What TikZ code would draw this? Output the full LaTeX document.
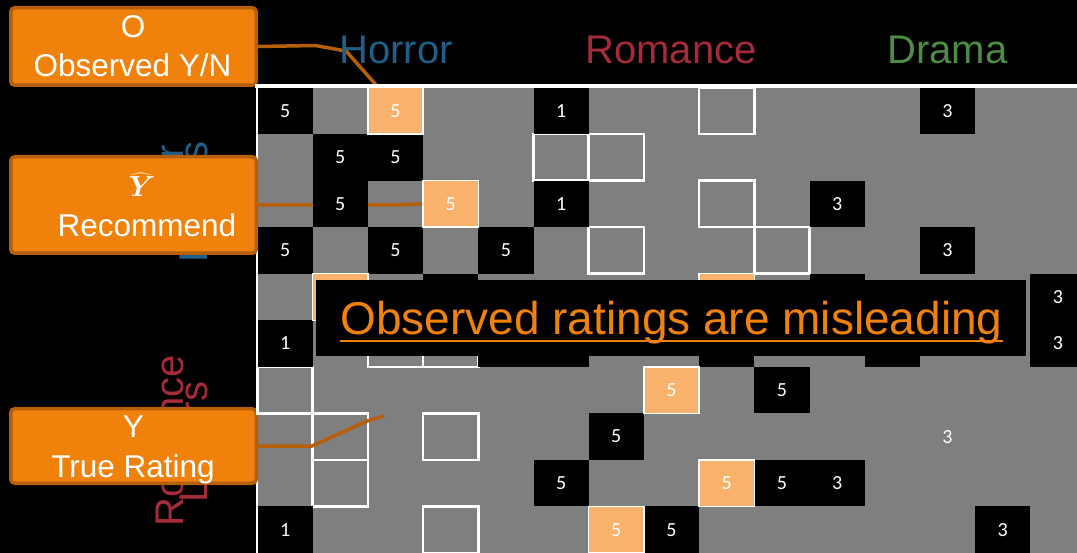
\documentclass[tikz,border=0pt]{standalone}
\usepackage{fontspec}
\setmainfont{Liberation Sans}
\newfontfamily\digitfont{Carlito}
\definecolor{bgray}{RGB}{127,127,127}
\definecolor{lorange}{RGB}{249,178,107}
\definecolor{borange}{RGB}{240,130,12}
\definecolor{dorange}{RGB}{181,95,8}
\definecolor{hblue}{RGB}{31,94,135}
\definecolor{rred}{RGB}{165,42,58}
\definecolor{dgreen}{RGB}{76,140,69}
\pgfdeclarelayer{bg}
\pgfdeclarelayer{mid}
\pgfsetlayers{bg,mid,main}
\begin{document}
\begin{tikzpicture}[x=1pt,y=-1pt,
  cellbase/.style={minimum width=55.2pt, minimum height=46.55pt, inner sep=0pt, outer sep=0pt,
    font=\digitfont\fontsize{20}{24}\selectfont, text=white},
  blackcell/.style={cellbase, fill=black},
  ratedcell/.style={cellbase, fill=lorange, draw=white, line width=1.5pt},
  opencell/.style={cellbase, draw=white, line width=2.5pt},
  plaincell/.style={cellbase},
  labelbox/.style={draw=dorange, fill=borange, line width=3.5pt, rounded corners=4pt,
    minimum width=245.5pt, inner sep=0pt},
  boxtext/.style={text=white, font=\fontsize{31.5}{36}\selectfont, anchor=base, inner sep=0pt},
  genre/.style={font=\fontsize{40}{48}\selectfont, anchor=base, inner sep=0pt},
  lovers/.style={font=\fontsize{40}{48}\selectfont, anchor=base, inner sep=0pt, rotate=90},
  link/.style={draw=dorange, line width=3.5pt, line join=round},
]
\useasboundingbox (0,0) rectangle (1077,553);
\begin{pgfonlayer}{bg}
  \fill[black] (0,0) rectangle (1077,553);
  \fill[bgray] (257.5,87.5) rectangle (1077,553);
  \draw[white, line width=2pt] (256.5,84) -- (256.5,553);
  % rotated side labels
  \node[lovers, text=hblue] (hl1) at (183,202) {Horror};
  \node[lovers, text=hblue] (hl2) at (207,202) {Lovers};
  \node[lovers, text=rred] (rl1) at (183,441) {Romance};
  \node[lovers, text=rred] (rl2) at (207,442) {Lovers};
  % label boxes
  \node[labelbox, minimum height=77.5pt] (obox) at (133.5,46.5) {};
  \node[labelbox, minimum height=96.5pt] (rbox) at (133.5,205) {};
  \node[labelbox, minimum height=74.5pt] (ybox) at (133.5,446) {};
  \node[boxtext] (ot1) at (133,38) {O};
  \node[boxtext] (ot2) at (132.5,77) {Observed Y/N};
  \node[text=white, anchor=base, inner sep=0pt, font=\fontsize{20}{24}\selectfont] (rt1) at (142,197) {\scalebox{1.4}{\boldmath$\widehat{Y}$}};
  \node[boxtext] (rt2) at (147,237) {Recommend};
  \node[boxtext] (yt1) at (133.5,438) {Y};
  \node[boxtext] (yt2) at (133,477) {True Rating};
  % outlined empty cells
  \foreach \c/\r in {8/0,5/1,6/1,8/2,6/3,9/3,2/5,3/5,0/6,1/7,3/7,1/8,3/9}
    \node[opencell] (w-\c-\r) at ({285.1+55.2*\c},{110.8+46.55*\r}) {};
\end{pgfonlayer}
% observed ratings
\foreach \c/\r/\v in {0/0/5,5/0/1,12/0/3,1/1/5,2/1/5,1/2/5,5/2/1,10/2/3,0/3/5,2/3/5,4/3/5,12/3/3,14/4/3,0/5/1,14/5/3,9/6/5,6/7/5,5/8/5,9/8/5,10/8/3,0/9/1,7/9/5,13/9/3}
  \node[blackcell] (b-\c-\r) at ({285.1+55.2*\c},{110.8+46.55*\r}) {\v};
\foreach \c/\r in {3/4,10/4,4/5,5/5,8/5,11/5}
  \node[blackcell] (b-\c-\r) at ({285.1+55.2*\c},{110.8+46.55*\r}) {};
\foreach \c/\r/\v in {2/0/5,3/2/5,7/6/5,8/8/5,6/9/5}
  \node[ratedcell] (o-\c-\r) at ({285.1+55.2*\c},{110.8+46.55*\r}) {\v};
\foreach \c/\r in {1/4,8/4}
  \node[ratedcell] (o-\c-\r) at ({285.1+55.2*\c},{110.8+46.55*\r}) {};
\node[plaincell] (p-12-7) at ({285.1+55.2*12},{110.8+46.55*7}) {3};
\draw[white, line width=4pt] (255,86) -- (1077,86);
% genre headers
\node[genre, text=hblue] (hh) at (396,64) {Horror};
\node[genre, text=rred] (rh) at (671,64) {Romance};
\node[genre, text=dgreen] (dh) at (947.5,64) {Drama};
% connectors
\begin{pgfonlayer}{mid}
  \coordinate (oend) at (377,86);
  \coordinate (yend) at (384,416);
  \draw[link] (obox.east) -- (315,45.5) -- (346,51) -- (oend);
  \draw[link] (rbox.east) -- (394,205) -- (o-3-2.west);
  \draw[link] (ybox.east) -- (312,446) -- (367,421) -- (yend);
\end{pgfonlayer}
% overlay message
\node[fill=black, minimum width=710pt, minimum height=76pt, inner sep=0pt] (warnbox) at (671,318) {};
\node[text=borange, font=\fontsize{46}{52}\selectfont, anchor=base, inner sep=0pt] (warn) at (671.5,335) {Observed ratings are misleading};
\draw[borange, line width=2pt] ([yshift=-6pt]warn.base west) -- ([yshift=-6pt]warn.base east);
\end{tikzpicture}
\end{document}
